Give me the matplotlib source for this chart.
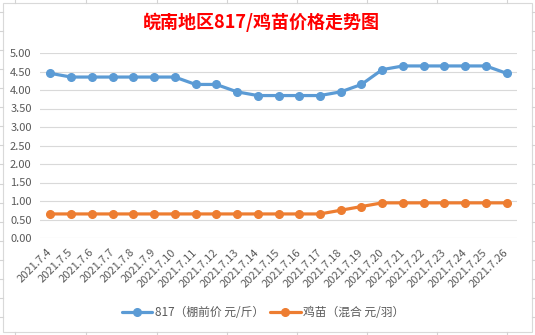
import matplotlib
matplotlib.use("Agg")
import matplotlib.pyplot as plt
from matplotlib.lines import Line2D
from matplotlib.patches import Rectangle

plt.rcParams['font.family'] = ['Noto Sans CJK SC', 'DejaVu Sans']

dates = ["2021.7.4", "2021.7.5", "2021.7.6", "2021.7.7", "2021.7.8", "2021.7.9",
         "2021.7.10", "2021.7.11", "2021.7.12", "2021.7.13", "2021.7.14", "2021.7.15",
         "2021.7.16", "2021.7.17", "2021.7.18", "2021.7.19", "2021.7.20", "2021.7.21",
         "2021.7.22", "2021.7.23", "2021.7.24", "2021.7.25", "2021.7.26"]
price_817 = [4.45, 4.35, 4.35, 4.35, 4.35, 4.35, 4.35, 4.15, 4.15, 3.95, 3.85, 3.85,
             3.85, 3.85, 3.95, 4.15, 4.55, 4.65, 4.65, 4.65, 4.65, 4.65, 4.45]
price_chick = [0.65, 0.65, 0.65, 0.65, 0.65, 0.65, 0.65, 0.65, 0.65, 0.65, 0.65, 0.65,
               0.65, 0.65, 0.75, 0.85, 0.95, 0.95, 0.95, 0.95, 0.95, 0.95, 0.95]
yticks = [0.0, 0.5, 1.0, 1.5, 2.0, 2.5, 3.0, 3.5, 4.0, 4.5, 5.0]
title = "皖南地区817/鸡苗价格走势图"
label_817 = "817（棚前价 元/斤）"
label_chick = "鸡苗（混合 元/羽）"

W, H = 535, 335
fig = plt.figure(figsize=(W / 100, H / 100), dpi=100)

# spreadsheet cell grid stubs outside the chart box
grid_c = "#d4d4d4"
for gx in [15, 86, 157, 227, 297, 367, 437, 507]:
    fig.add_artist(Line2D([gx / W, gx / W], [1, 1 - 3 / H], color=grid_c, lw=0.8))
    fig.add_artist(Line2D([gx / W, gx / W], [0, 3 / H], color=grid_c, lw=0.8))
gy = 12.0
while gy < H:
    fig.add_artist(Line2D([0, 3 / W], [1 - gy / H, 1 - gy / H], color=grid_c, lw=0.8))
    fig.add_artist(Line2D([1 - 3 / W, 1], [1 - gy / H, 1 - gy / H], color=grid_c, lw=0.8))
    gy += 19.06
fig.add_artist(Rectangle((3 / W, 3 / H), (532 - 3) / W, (332 - 3) / H,
                         fill=False, edgecolor="#d9d9d9", lw=0.8))

ax = fig.add_axes([40 / W, 1 - 238 / H, (517 - 40) / W, (238 - 53) / H])
x = list(range(len(dates)))
ax.plot(x, price_817, color="#5B9BD5", lw=2.3, marker="o", markersize=5.5,
        label=label_817, solid_capstyle="round", zorder=3)
ax.plot(x, price_chick, color="#ED7D31", lw=2.3, marker="o", markersize=5.5,
        label=label_chick, solid_capstyle="round", zorder=3)

ax.set_xlim(-0.5, len(dates) - 0.5)
ax.set_ylim(0, 5)
ax.set_yticks(yticks)
ax.set_yticklabels([f"{v:.2f}" for v in yticks], fontsize=8, color="#595959")
ax.set_xticks(x)
ax.set_xticklabels(dates, fontsize=8, color="#595959", rotation=45,
                   ha="right", va="center", rotation_mode="anchor")
ax.tick_params(axis="both", length=0)
ax.tick_params(axis="y", pad=6)
ax.tick_params(axis="x", pad=9)
ax.grid(axis="y", color="#d9d9d9", lw=0.8)
ax.set_axisbelow(True)
for s in ax.spines.values():
    s.set_visible(False)

fig.text(0.488, 1 - 22 / H, title, color="#FF0000", fontsize=13, fontweight="bold",
         ha="center", va="center")

fig.legend(loc="center", bbox_to_anchor=(0.492, 1 - 313 / H), ncol=2, frameon=False,
           fontsize=8.5, labelcolor="#595959", handlelength=2.6, columnspacing=0.45,
           handletextpad=0.25)

fig.savefig("out.png", dpi=100)
